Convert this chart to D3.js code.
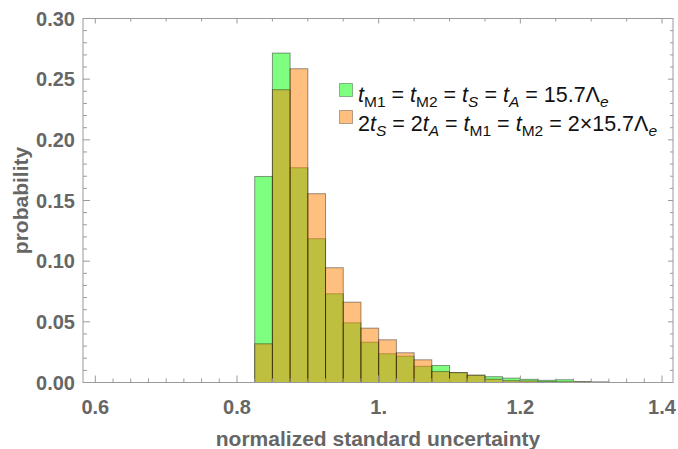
<!DOCTYPE html>
<html>
<head>
<meta charset="utf-8">
<script src="https://cdn.jsdelivr.net/npm/d3@7"></script>
<style>
  body { margin: 0; background: #fff; }
  text { font-family: "Liberation Sans", Arial, sans-serif; }
</style>
</head>
<body>
<script>
// histogram bins (left edges), width 0.025
var binEdges = [0.825, 0.85, 0.875, 0.9, 0.925, 0.95, 0.975, 1.0, 1.025, 1.05,
                1.075, 1.1, 1.125, 1.15, 1.175, 1.2, 1.225, 1.25, 1.275, 1.3];
var binWidth = 0.025;

// green: tM1 = tM2 = tS = tA
var greenProb = [0.1698, 0.2715, 0.177, 0.1185, 0.0731, 0.0492, 0.0332, 0.0237, 0.0217, 0.0134,
                 0.014, 0.0082, 0.006, 0.0048, 0.0036, 0.0026, 0.0018, 0.0023, 0.0006, 0.0004];
// orange: 2tS = 2tA = tM1 = tM2
var orangeProb = [0.0319, 0.2413, 0.2586, 0.1556, 0.0946, 0.0662, 0.0448, 0.0352, 0.0245, 0.0187,
                  0.009, 0.0081, 0.006, 0.0027, 0.0015, 0.0013, 0.0007, 0.0006, 0.0006, 0.0003];

var xTickVals = [0.6, 0.8, 1.0, 1.2, 1.4];
var xTickLabels = ["0.6", "0.8", "1.", "1.2", "1.4"];
var yTickVals = [0, 0.05, 0.1, 0.15, 0.2, 0.25, 0.3];
var yTickLabels = ["0.00", "0.05", "0.10", "0.15", "0.20", "0.25", "0.30"];

var svgW = 678, svgH = 449;
var plotL = 83, plotR = 673, plotT = 18.5, plotB = 382.5;

var svg = d3.select("body").append("svg")
    .attr("width", svgW)
    .attr("height", svgH);

var x = d3.scaleLinear().domain([0.5826, 1.4155]).range([plotL, plotR]);
var y = d3.scaleLinear().domain([0, 0.3]).range([plotB, plotT]);

var axisGray = "#9a9a9a";
var labelGray = "#666666";

// bars
function drawBars(vals, fill) {
  svg.append("g").selectAll("rect")
    .data(vals)
    .enter()
    .append("rect")
      .attr("x", function(d, i) { return x(binEdges[i]); })
      .attr("width", function(d, i) { return x(binEdges[i] + binWidth) - x(binEdges[i]); })
      .attr("y", function(d) { return y(d); })
      .attr("height", function(d) { return y(0) - y(d); })
      .attr("fill", fill)
      .attr("fill-opacity", 0.5)
      .attr("stroke", "#000")
      .attr("stroke-opacity", 0.4)
      .attr("stroke-width", 1);
}
drawBars(greenProb, "rgb(0,255,0)");
drawBars(orangeProb, "rgb(255,128,0)");

// frame
svg.append("rect")
  .attr("x", plotL).attr("y", plotT)
  .attr("width", plotR - plotL).attr("height", plotB - plotT)
  .attr("fill", "none")
  .attr("stroke", axisGray)
  .attr("stroke-width", 1);

var ticks = svg.append("g").attr("stroke", axisGray).attr("stroke-width", 1);

// bottom ticks: minor every 0.025, major every 0.2
d3.range(0, 33).forEach(function(k) {
  var v = 0.6 + k * 0.025;
  var major = k % 8 === 0;
  ticks.append("line")
    .attr("x1", x(v)).attr("x2", x(v))
    .attr("y1", plotB).attr("y2", plotB - (major ? 7 : 4));
});
// top ticks every 0.05
d3.range(0, 17).forEach(function(k) {
  var v = 0.6 + k * 0.05;
  ticks.append("line")
    .attr("x1", x(v)).attr("x2", x(v))
    .attr("y1", plotT).attr("y2", plotT + (k % 4 === 0 ? 5 : 3));
});
// left/right ticks every 0.01
d3.range(0, 31).forEach(function(k) {
  var v = k * 0.01;
  var major = k % 5 === 0;
  ticks.append("line")
    .attr("x1", plotL).attr("x2", plotL + (major ? 7 : 4))
    .attr("y1", y(v)).attr("y2", y(v));
  ticks.append("line")
    .attr("x1", plotR).attr("x2", plotR - (major ? 5 : 3))
    .attr("y1", y(v)).attr("y2", y(v));
});

// tick labels
svg.append("g").selectAll("text")
  .data(xTickVals)
  .enter().append("text")
    .attr("x", function(d) { return x(d); })
    .attr("y", 414)
    .attr("text-anchor", "middle")
    .attr("font-size", 20)
    .attr("font-weight", "bold")
    .attr("fill", labelGray)
    .text(function(d, i) { return xTickLabels[i]; });

svg.append("g").selectAll("text")
  .data(yTickVals)
  .enter().append("text")
    .attr("x", 75)
    .attr("y", function(d) { return y(d) + 7; })
    .attr("text-anchor", "end")
    .attr("font-size", 20)
    .attr("font-weight", "bold")
    .attr("fill", labelGray)
    .text(function(d, i) { return yTickLabels[i]; });

// axis titles
svg.append("text")
  .attr("x", (plotL + plotR) / 2)
  .attr("y", 446)
  .attr("text-anchor", "middle")
  .attr("font-size", 21)
  .attr("font-weight", "bold")
  .attr("fill", labelGray)
  .text("normalized standard uncertainty");

svg.append("text")
  .attr("transform", "translate(28," + ((plotT + plotB) / 2) + ") rotate(-90)")
  .attr("text-anchor", "middle")
  .attr("font-size", 21)
  .attr("font-weight", "bold")
  .attr("fill", labelGray)
  .text("probability");

// legend
var legendRows = [
  { fill: "rgb(0,255,0)", boxY: 83.5, baseY: 101.5, parts: [
    ["t", "i"], ["M1", "sub"], [" = ", "n"], ["t", "i"], ["M2", "sub"], [" = ", "n"],
    ["t", "i"], ["S", "subi"], [" = ", "n"], ["t", "i"], ["A", "subi"], [" = 15.7\u039B", "n"], ["e", "subi"]] },
  { fill: "rgb(255,128,0)", boxY: 110.5, baseY: 130.5, parts: [
    ["2", "n"], ["t", "i"], ["S", "subi"], [" = 2", "n"], ["t", "i"], ["A", "subi"], [" = ", "n"],
    ["t", "i"], ["M1", "sub"], [" = ", "n"], ["t", "i"], ["M2", "sub"], [" = 2\u00D715.7\u039B", "n"], ["e", "subi"]] }
];

var legend = svg.append("g");
legendRows.forEach(function(row) {
  legend.append("rect")
    .attr("x", 339.5).attr("y", row.boxY)
    .attr("width", 13).attr("height", 13)
    .attr("fill", row.fill).attr("fill-opacity", 0.5)
    .attr("stroke", "#000").attr("stroke-opacity", 0.3);
  var t = legend.append("text")
    .attr("x", 358).attr("y", row.baseY)
    .attr("font-size", 21.5)
    .attr("fill", "#111");
  var shifted = false;
  row.parts.forEach(function(p) {
    var sp = t.append("tspan").text(p[0]);
    var isSub = p[1] === "sub" || p[1] === "subi";
    if (p[1] === "i" || p[1] === "subi") sp.attr("font-style", "italic");
    if (isSub) sp.attr("font-size", 15.5);
    if (isSub && !shifted) { sp.attr("dy", 5); shifted = true; }
    else if (!isSub && shifted) { sp.attr("dy", -5); shifted = false; }
  });
});
</script>
</body>
</html>
